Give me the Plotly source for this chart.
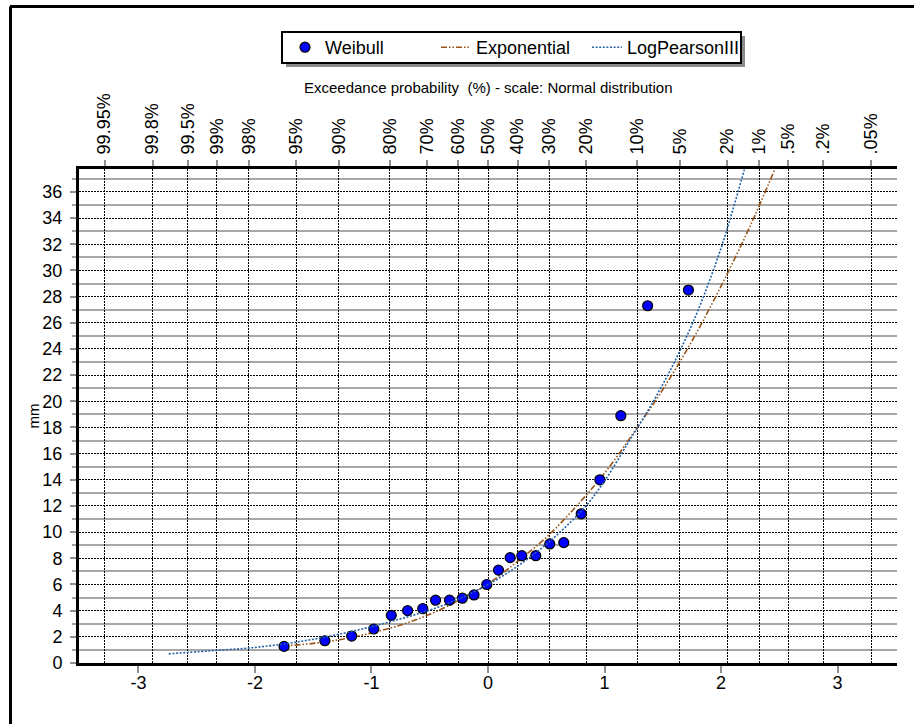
from statistics import NormalDist
import plotly.graph_objects as go

# ---------------- data ----------------
# Weibull plotting positions: standard normal variate (bottom axis) and value in mm
weibull_z = [-1.75, -1.40, -1.17, -0.98, -0.83, -0.69, -0.56, -0.45, -0.33, -0.22, -0.12, -0.01,
             0.09, 0.19, 0.29, 0.41, 0.53, 0.65, 0.80, 0.96, 1.14, 1.37, 1.72]
weibull_mm = [1.27, 1.70, 2.06, 2.6, 3.64, 4.0, 4.15, 4.8, 4.8, 4.95, 5.2, 6.0,
              7.1, 8.05, 8.2, 8.2, 9.1, 9.2, 11.4, 14.0, 18.9, 27.3, 28.5]

# Exponential fitted curve (read points)
expo_z = [-1.79, -1.5, -1.25, -1.0, -0.75, -0.5, -0.25, 0.0, 0.25, 0.5, 0.75, 1.0,
          1.25, 1.5, 1.75, 2.0, 2.25, 2.46]
expo_mm = [1.28, 1.5, 1.82, 2.3, 2.9, 3.72, 4.79, 6.05, 7.74, 9.6, 11.9, 14.5,
           17.6, 20.9, 24.6, 28.8, 33.4, 37.7]

# Log-Pearson III fitted curve (read points)
lp3_z = [-2.74, -2.4, -2.0, -1.6, -1.2, -0.8, -0.4, 0.0, 0.4, 0.8, 1.0, 1.2,
         1.4, 1.6, 1.8, 2.0, 2.1, 2.2]
lp3_mm = [0.70, 0.92, 1.19, 1.66, 2.35, 3.25, 4.36, 6.0, 8.35, 11.6, 13.9, 16.8,
          19.7, 23.0, 26.9, 31.7, 34.6, 37.7]

# Top axis: exceedance probabilities (%) and their labels
exceed_pct = [99.95, 99.8, 99.5, 99, 98, 95, 90, 80, 70, 60, 50, 40, 30, 20, 10, 5, 2, 1, 0.5, 0.2, 0.05]
exceed_lbl = ["99.95%", "99.8%", "99.5%", "99%", "98%", "95%", "90%", "80%", "70%", "60%", "50%",
              "40%", "30%", "20%", "10%", "5%", "2%", "1%", ".5%", ".2%", ".05%"]

bottom_ticks = [-3, -2, -1, 0, 1, 2, 3]
bottom_lbl = ["-3", "-2", "-1", "0", "1", "2", "3"]
x_range = [-3.51, 3.51]
y_range = [0, 37.75]

top_title = "Exceedance probability  (%) - scale: Normal distribution"

# normal-distribution scale for the probability axis
nd = NormalDist()
exceed_z = [nd.inv_cdf(1 - p / 100.0) for p in exceed_pct]

FONT = "Liberation Sans, Arial, sans-serif"
DOT = "1.5px,1.5px"

fig = go.Figure()
fig.add_trace(go.Scatter(
    x=expo_z, y=expo_mm, mode="lines", name="Exponential", legendrank=2,
    line=dict(color="#9A5418", width=1.6, dash="6px,2px,1.5px,2px,1.5px,2px", shape="spline"),
    hoverinfo="skip"))
# drawn against the top (probability) axis, which shares the same range
fig.add_trace(go.Scatter(
    x=lp3_z, y=lp3_mm, mode="lines", name="LogPearsonIII", legendrank=3, xaxis="x2",
    line=dict(color="#2462A8", width=1.6, dash="2px,1.6px", shape="spline"),
    hoverinfo="skip"))
fig.add_trace(go.Scatter(
    x=weibull_z, y=weibull_mm, mode="markers", name="Weibull", legendrank=1,
    marker=dict(color="#0000FF", size=10, line=dict(color="black", width=1.2)),
    hoverinfo="skip"))

# plot area geometry (px)
L, R, T, B = 79, 17, 169, 61
W, H = 914 - L - R, 724 - T - B


def px2x(px):
    return (px - L) / W


def py2y(py):
    return (724 - B - py) / H


fig.update_layout(
    width=914, height=724,
    margin=dict(l=L, r=R, t=T, b=B, pad=0),
    paper_bgcolor="white", plot_bgcolor="white",
    font=dict(family=FONT, color="black", size=18),
    showlegend=True,
    legend=dict(orientation="h", x=px2x(285), xanchor="left", y=py2y(47.5), yanchor="middle",
                bgcolor="rgba(0,0,0,0)", borderwidth=0, font=dict(size=18, family=FONT),
                entrywidth=106, entrywidthmode="pixels", itemwidth=30, traceorder="normal"),
    xaxis=dict(range=x_range, tickmode="array", tickvals=bottom_ticks, ticktext=bottom_lbl,
               ticks="outside", ticklen=7, tickwidth=2, tickcolor="#909090",
               showline=True, linecolor="black", linewidth=3,
               showgrid=False, zeroline=False, tickfont=dict(size=18),
               ticklabelstandoff=-6),
    xaxis2=dict(range=x_range, overlaying="x", side="top", anchor="y",
                tickmode="array", tickvals=exceed_z, ticktext=exceed_lbl, tickangle=-90,
                ticks="outside", ticklen=6, tickwidth=2, tickcolor="#909090",
                showline=True, linecolor="black", linewidth=3,
                showgrid=True, gridcolor="black", gridwidth=1.3, griddash=DOT,
                zeroline=False, tickfont=dict(size=18), ticklabelstandoff=2),
    yaxis=dict(range=y_range, tickmode="linear", tick0=0, dtick=2,
               ticks="outside", ticklen=6, tickwidth=2, tickcolor="#909090",
               showline=True, linecolor="black", linewidth=3,
               showgrid=True, gridcolor="black", gridwidth=1.3, griddash=DOT,
               zeroline=False, tickfont=dict(size=18), ticklabelstandoff=4,
               minor=dict(dtick=1, ticks="outside", ticklen=4, tickwidth=2, tickcolor="#A0A0A0",
                          showgrid=True, gridcolor="#A8A8A8", gridwidth=1.5, griddash="solid"),
               title=dict(text="mm", font=dict(size=15), standoff=0)),
    annotations=[dict(text=top_title, xref="paper", yref="paper", x=0.5, y=py2y(88),
                      xanchor="center", yanchor="middle", showarrow=False,
                      font=dict(size=15, family=FONT, color="black"))],
)

# legend frame with shadow, outer chart frame
lx0, lx1, ly0, ly1 = 282, 741, 32, 63
shapes = [
    dict(type="rect", xref="paper", yref="paper",
         x0=px2x(lx0 + 4), x1=px2x(lx1 + 4), y0=py2y(ly1 + 4), y1=py2y(ly0 + 4),
         fillcolor="#8C8C8C", line=dict(width=0), layer="above"),
    dict(type="rect", xref="paper", yref="paper",
         x0=px2x(lx0), x1=px2x(lx1), y0=py2y(ly1), y1=py2y(ly0),
         fillcolor="white", line=dict(color="black", width=2), layer="above"),
    dict(type="line", xref="paper", yref="paper",
         x0=px2x(10), x1=px2x(930), y0=py2y(6.5), y1=py2y(6.5),
         line=dict(color="black", width=3)),
    dict(type="line", xref="paper", yref="paper",
         x0=px2x(10.5), x1=px2x(10.5), y0=py2y(6.5), y1=py2y(740),
         line=dict(color="black", width=3)),
]
fig.update_layout(shapes=shapes)

fig.write_html("out.html")
